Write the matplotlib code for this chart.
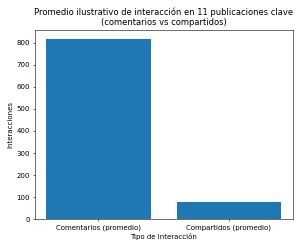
import matplotlib
matplotlib.use("Agg")
import matplotlib.pyplot as plt

categorias = ['Comentarios (promedio)', 'Compartidos (promedio)']
valores = [818, 77]

fig, ax = plt.subplots(figsize=(6, 4.96), dpi=50)
ax.bar(categorias, valores, color='#1f77b4')
ax.set_title('Promedio ilustrativo de interacción en 11 publicaciones clave\n(comentarios vs compartidos)')
ax.set_xlabel('Tipo de interacción')
ax.set_ylabel('Interacciones')
fig.tight_layout()
fig.savefig('out.png', dpi=50)
